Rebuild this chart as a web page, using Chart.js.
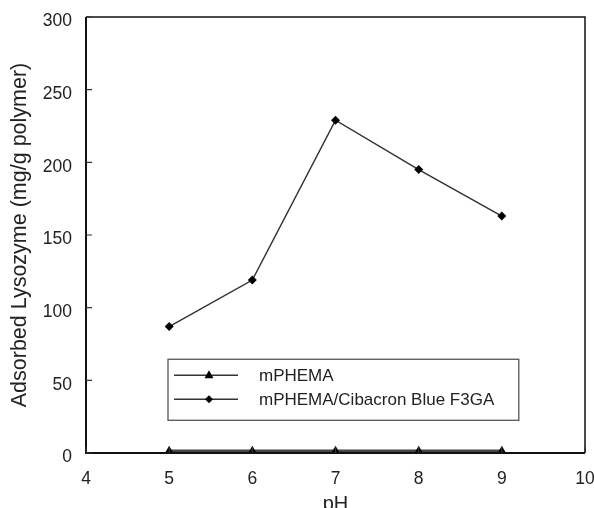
<!DOCTYPE html>
<html>
<head>
<meta charset="utf-8">
<script src="https://cdn.jsdelivr.net/npm/chart.js@4/dist/chart.umd.min.js"></script>
<style>
html,body{margin:0;padding:0;background:#fff;}
#wrap{width:594px;height:508px;}
</style>
</head>
<body>
<div id="wrap"><canvas id="c" width="594" height="508"></canvas></div>
<script>
const phValues = [5, 6, 7, 8, 9];
const mPHEMA = [1.5, 1.5, 1.5, 1.5, 1.5];
const mPHEMACibacron = [87, 119, 229, 195, 163];
const seriesNames = ['mPHEMA', 'mPHEMA/Cibacron Blue F3GA'];
const xTicks = [4, 5, 6, 7, 8, 9, 10];
const yTicks = [0, 50, 100, 150, 200, 250, 300];

const FONT = 'Liberation Sans, Arial, sans-serif';

const framePlugin = {
  id: 'frame',
  afterDatasetsDraw(chart) {
    const {ctx, chartArea: a, scales} = chart;
    ctx.save();
    ctx.strokeStyle = '#111';
    ctx.lineWidth = 1.5;
    ctx.beginPath();
    ctx.moveTo(a.left, a.top); ctx.lineTo(a.right, a.top); ctx.lineTo(a.right, a.bottom);
    ctx.stroke();
    ctx.lineWidth = 2;
    ctx.beginPath();
    ctx.moveTo(a.left, a.top); ctx.lineTo(a.left, a.bottom); ctx.lineTo(a.right, a.bottom);
    ctx.stroke();
    ctx.lineWidth = 1.2;
    ctx.strokeStyle = '#333';
    ctx.beginPath();
    yTicks.forEach(v => { const y = scales.y.getPixelForValue(v); ctx.moveTo(a.left, y); ctx.lineTo(a.left + 6, y); });
    xTicks.forEach(v => { const x = scales.x.getPixelForValue(v); ctx.moveTo(x, a.bottom); ctx.lineTo(x, a.bottom - 6); });
    ctx.stroke();
    ctx.restore();
  },
  afterDraw(chart) {
    const {ctx, scales} = chart;
    const x0 = scales.x.getPixelForValue(4.986), x1 = scales.x.getPixelForValue(9.204);
    const y0 = scales.y.getPixelForValue(64.5), y1 = scales.y.getPixelForValue(22.5);
    ctx.save();
    ctx.fillStyle = '#fff';
    ctx.fillRect(x0, y0, x1 - x0, y1 - y0);
    ctx.strokeStyle = '#555';
    ctx.lineWidth = 1.3;
    ctx.strokeRect(x0, y0, x1 - x0, y1 - y0);
    const rows = [y0 + 16, y0 + 40];
    chart.data.datasets.forEach((ds, i) => {
      const y = rows[i];
      ctx.strokeStyle = '#333'; ctx.lineWidth = 1.3;
      ctx.beginPath(); ctx.moveTo(x0 + 6, y); ctx.lineTo(x0 + 70, y); ctx.stroke();
      const mx = x0 + 41;
      ctx.fillStyle = '#000';
      ctx.beginPath();
      if (ds.pointStyle === 'triangle') {
        ctx.moveTo(mx, y - 5); ctx.lineTo(mx + 4.5, y + 3); ctx.lineTo(mx - 4.5, y + 3);
      } else {
        ctx.moveTo(mx, y - 4); ctx.lineTo(mx + 4, y); ctx.lineTo(mx, y + 4); ctx.lineTo(mx - 4, y);
      }
      ctx.closePath(); ctx.fill();
      ctx.fillStyle = '#222';
      ctx.font = '17px ' + FONT;
      ctx.textBaseline = 'middle';
      ctx.textAlign = 'left';
      ctx.fillText(ds.label, x0 + 91, y + 1);
    });
    ctx.restore();
  }
};

new Chart(document.getElementById('c'), {
  type: 'line',
  data: {
    datasets: [
      {
        label: seriesNames[0],
        data: phValues.map((x, i) => ({x, y: mPHEMA[i]})),
        borderColor: '#444', borderWidth: 2.5,
        pointStyle: 'triangle', pointRadius: 5, pointBackgroundColor: '#000', pointBorderColor: '#000', pointBorderWidth: 0,
        tension: 0, clip: false
      },
      {
        label: seriesNames[1],
        data: phValues.map((x, i) => ({x, y: mPHEMACibacron[i]})),
        borderColor: '#333', borderWidth: 1.5,
        pointStyle: 'rectRot', pointRadius: 4.5, pointBackgroundColor: '#000', pointBorderColor: '#000', pointBorderWidth: 0,
        tension: 0
      }
    ]
  },
  options: {
    responsive: false,
    animation: false,
    layout: {padding: {top: 17, right: 9, left: 0, bottom: 0}},
    plugins: {legend: {display: false}, tooltip: {enabled: false}},
    scales: {
      x: {
        type: 'linear', min: 4, max: 10,
        afterBuildTicks: s => { s.ticks = xTicks.map(v => ({value: v})); },
        afterFit: s => { s.height = 55; s.paddingLeft = 0; s.paddingRight = 0; },
        grid: {display: false, drawTicks: false},
        border: {display: false},
        ticks: {padding: 16, color: '#222', font: {family: FONT, size: 17.5}},
        title: {display: true, text: 'pH', color: '#222', font: {family: FONT, size: 20}, padding: {top: 0, bottom: -8}}
      },
      y: {
        type: 'linear', min: 0, max: 300,
        afterBuildTicks: s => { s.ticks = yTicks.map(v => ({value: v})); },
        afterFit: s => { s.width = 86; s.paddingTop = 0; s.paddingBottom = 0; },
        grid: {display: false, drawTicks: false},
        border: {display: false},
        ticks: {padding: 14, labelOffset: 4.5, color: '#222', font: {family: FONT, size: 17.5}},
        title: {display: true, text: 'Adsorbed Lysozyme (mg/g polymer)', color: '#222', font: {family: FONT, size: 21.5}, padding: {top: 6.7, bottom: 0}}
      }
    }
  },
  plugins: [framePlugin]
});
</script>
</body>
</html>
